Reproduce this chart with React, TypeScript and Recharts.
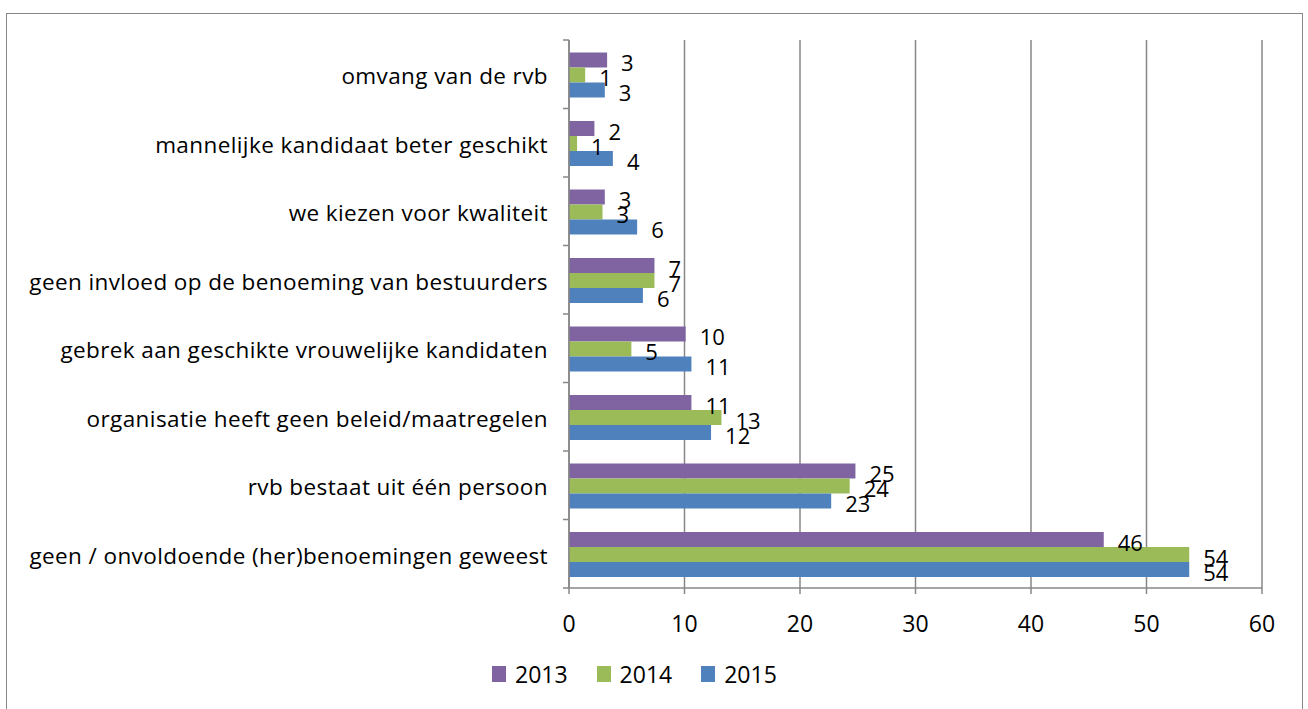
import React from 'react';
import { BarChart, Bar, XAxis, YAxis, CartesianGrid, Legend, LabelList } from 'recharts';

const categories = [
  'omvang van de rvb',
  'mannelijke kandidaat beter geschikt',
  'we kiezen voor kwaliteit',
  'geen invloed op de benoeming van bestuurders',
  'gebrek aan geschikte vrouwelijke kandidaten',
  'organisatie heeft geen beleid/maatregelen',
  'rvb bestaat uit één persoon',
  'geen / onvoldoende (her)benoemingen geweest',
];

const values2013 = [3.3, 2.2, 3.1, 7.4, 10.1, 10.6, 24.8, 46.3];
const values2014 = [1.4, 0.7, 2.9, 7.4, 5.4, 13.2, 24.3, 53.7];
const values2015 = [3.1, 3.8, 5.9, 6.4, 10.6, 12.3, 22.7, 53.7];

const xTicks = [0, 10, 20, 30, 40, 50, 60];

const series = [
  { key: 'y2013', name: '2013', color: '#8064A2', values: values2013 },
  { key: 'y2014', name: '2014', color: '#9BBB59', values: values2014 },
  { key: 'y2015', name: '2015', color: '#4F81BD', values: values2015 },
];

const data = categories.map((name, i) => ({
  name,
  y2013: values2013[i],
  y2014: values2014[i],
  y2015: values2015[i],
}));

const FONT = '"Open Sans", sans-serif';
const GRAY = '#878787';
const TOP = 40;
const BOTTOM = 588;
const HALF_BAND = (BOTTOM - TOP) / categories.length / 2;

const CategoryTick = (props: any) => {
  const { x, y, payload, index } = props;
  return (
    <g>
      <line x1={x + 2} x2={x + 8} y1={y - HALF_BAND} y2={y - HALF_BAND} stroke={GRAY} strokeWidth={1.5} />
      {index === categories.length - 1 && (
        <line x1={x + 2} x2={x + 8} y1={y + HALF_BAND} y2={y + HALF_BAND} stroke={GRAY} strokeWidth={1.5} />
      )}
      <text
        x={x - 13}
        y={y + 10}
        textAnchor="end"
        fontFamily={FONT}
        fontSize={22.5}
        letterSpacing={0.4}
        fill="#000"
      >
        {payload.value}
      </text>
    </g>
  );
};

const ValueLabel = (props: any) => {
  const { x, y, width, height, value } = props;
  return (
    <text x={x + width + 14} y={y + height / 2 + 11} fontFamily={FONT} fontSize={22} fill="#000">
      {Math.round(value)}
    </text>
  );
};

const LegendContent = () => (
  <div style={{ display: 'flex', alignItems: 'center', fontFamily: FONT, fontSize: 23 }}>
    {series.map((s) => (
      <div key={s.key} style={{ display: 'flex', alignItems: 'center', marginRight: 29 }}>
        <span style={{ display: 'inline-block', width: 14, height: 16, background: s.color, marginRight: 9 }} />
        <span>{s.name}</span>
      </div>
    ))}
  </div>
);

export default function App() {
  return (
    <div style={{ position: 'absolute', left: 0, top: 0, width: 1308, height: 709, background: '#fff' }}>
      <div
        style={{
          position: 'absolute',
          left: 6,
          top: 13,
          width: 1297,
          height: 700,
          border: `1.5px solid ${GRAY}`,
          boxSizing: 'border-box',
        }}
      />
      <BarChart
        width={1308}
        height={709}
        data={data}
        layout="vertical"
        margin={{ top: TOP, right: 46, bottom: 21, left: 0 }}
        barCategoryGap={12.5}
        barGap={0}
      >
        <CartesianGrid horizontal={false} stroke={GRAY} strokeWidth={1.5} />
        <XAxis
          type="number"
          domain={[0, 60]}
          ticks={xTicks}
          interval={0}
          axisLine={{ stroke: GRAY, strokeWidth: 1.5 }}
          tickLine={{ stroke: GRAY, strokeWidth: 1.5 }}
          tickSize={6}
          tickMargin={22}
          height={70}
          tick={{ fill: '#000', fontFamily: FONT, fontSize: 23 }}
        />
        <YAxis
          type="category"
          dataKey="name"
          width={569}
          interval={0}
          axisLine={{ stroke: GRAY, strokeWidth: 1.5 }}
          tickLine={false}
          tick={<CategoryTick />}
        />
        <Legend
          height={30}
          verticalAlign="bottom"
          content={<LegendContent />}
          wrapperStyle={{ top: 658, left: 492, width: 400 }}
        />
        {series.map((s) => (
          <Bar key={s.key} dataKey={s.key} name={s.name} fill={s.color} isAnimationActive={false}>
            <LabelList dataKey={s.key} content={<ValueLabel />} />
          </Bar>
        ))}
      </BarChart>
    </div>
  );
}
